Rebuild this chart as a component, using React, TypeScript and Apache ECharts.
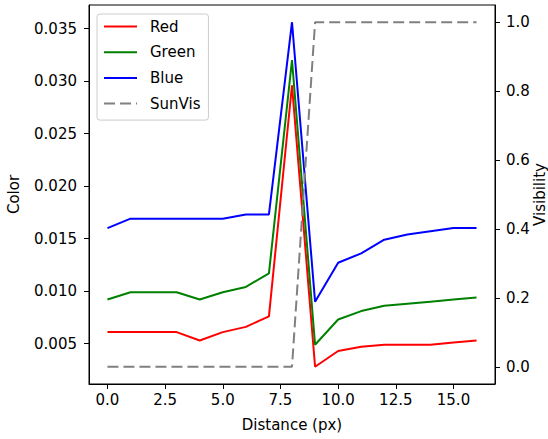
import React, { useEffect, useRef } from "react";
import * as echarts from "echarts";

const distances = [0, 1, 2, 3, 4, 5, 6, 7, 8, 9, 10, 11, 12, 13, 14, 15, 16];
const redValues = [0.0061, 0.0061, 0.0061, 0.0061, 0.0053, 0.0061, 0.0066, 0.0076, 0.0296, 0.0028, 0.0043, 0.0047, 0.0049, 0.0049, 0.0049, 0.0051, 0.0053];
const greenValues = [0.0092, 0.0099, 0.0099, 0.0099, 0.0092, 0.0099, 0.0104, 0.0117, 0.0320, 0.0049, 0.0073, 0.0081, 0.0086, 0.0088, 0.0090, 0.0092, 0.0094];
const blueValues = [0.0160, 0.0169, 0.0169, 0.0169, 0.0169, 0.0169, 0.0173, 0.0173, 0.0356, 0.0090, 0.0127, 0.0136, 0.0149, 0.0154, 0.0157, 0.0160, 0.0160];
const sunVisValues = [0, 0, 0, 0, 0, 0, 0, 0, 0, 1, 1, 1, 1, 1, 1, 1, 1];

const xTicks = [0, 2.5, 5, 7.5, 10, 12.5, 15];
const leftTicks = [0.005, 0.01, 0.015, 0.02, 0.025, 0.03, 0.035];
const rightTicks = [0, 0.2, 0.4, 0.6, 0.8, 1.0];
const rightAxisTitle = "Visibility";

const FONT = "DejaVu Sans";
const FS = 15;

function padRange(vals: number[]) {
  const mn = Math.min(...vals);
  const mx = Math.max(...vals);
  const r = mx - mn;
  return [mn - 0.05 * r, mx + 0.05 * r];
}

export default function App() {
  const ref = useRef<HTMLDivElement>(null);
  useEffect(() => {
    if (!ref.current) return;
    const chart = echarts.init(ref.current, null, { renderer: "svg" });
    const [xMin, xMax] = padRange(distances);
    const [lMin, lMax] = padRange([...redValues, ...greenValues, ...blueValues]);
    const [rMin, rMax] = padRange(sunVisValues);
    const pairs = (ys: number[]) => distances.map((d, i) => [d, ys[i]]);
    const axisCommon = {
      axisLine: { show: true, onZero: false, lineStyle: { color: "#000", width: 1 } },
      axisTick: { show: true, length: 5, lineStyle: { color: "#000", width: 1 } },
      splitLine: { show: false },
    };
    chart.setOption({
      animation: false,
      textStyle: { fontFamily: FONT },
      grid: {
        left: 89,
        top: 5,
        width: 406,
        height: 379,
        outerBoundsMode: "none",
        containLabel: false,
        show: true,
        borderColor: "#000",
        borderWidth: 1,
        backgroundColor: "transparent",
      },
      graphic: [
        {
          type: "text",
          x: 540,
          y: 194.5,
          rotation: Math.PI / 2,
          style: {
            text: rightAxisTitle,
            fontFamily: FONT,
            fontSize: FS,
            fill: "#000",
            textAlign: "center",
            textVerticalAlign: "middle",
          },
        },
      ],
      legend: {
        orient: "vertical",
        left: 97,
        top: 14,
        itemWidth: 33,
        itemHeight: 14,
        itemGap: 10.7,
        padding: [5, 8, 9, 6],
        backgroundColor: "rgba(255,255,255,0.8)",
        borderColor: "#cccccc",
        borderWidth: 1,
        borderRadius: 3,
        itemStyle: { opacity: 0 },
        textStyle: { fontFamily: FONT, fontSize: FS, color: "#000", padding: [0, 0, 0, 8] },
        data: ["Red", "Green", "Blue", "SunVis"],
      },
      xAxis: {
        type: "value",
        min: xMin,
        max: xMax,
        name: "Distance (px)",
        nameLocation: "middle",
        nameGap: 33,
        nameTextStyle: { fontFamily: FONT, fontSize: FS, color: "#000" },
        ...axisCommon,
        axisTick: { ...axisCommon.axisTick, customValues: xTicks },
        axisLabel: {
          customValues: xTicks,
          fontFamily: FONT,
          fontSize: FS,
          color: "#000",
          margin: 8,
          formatter: (v: number) => v.toFixed(1),
        },
      },
      yAxis: [
        {
          type: "value",
          position: "left",
          min: lMin,
          max: lMax,
          name: "Color",
          nameLocation: "middle",
          nameGap: 68,
          nameTextStyle: { fontFamily: FONT, fontSize: FS, color: "#000" },
          ...axisCommon,
          axisTick: { ...axisCommon.axisTick, customValues: leftTicks },
          axisLabel: {
            customValues: leftTicks,
            fontFamily: FONT,
            fontSize: FS,
            color: "#000",
            margin: 12,
            formatter: (v: number) => v.toFixed(3),
          },
        },
        {
          type: "value",
          position: "right",
          min: rMin,
          max: rMax,
          ...axisCommon,
          axisTick: { ...axisCommon.axisTick, customValues: rightTicks },
          axisLabel: {
            customValues: rightTicks,
            fontFamily: FONT,
            fontSize: FS,
            color: "#000",
            margin: 11,
            formatter: (v: number) => v.toFixed(1),
          },
        },
      ],
      series: [
        {
          name: "Red",
          type: "line",
          yAxisIndex: 0,
          data: pairs(redValues),
          symbol: "none",
          lineStyle: { color: "#ff0000", width: 2 },
          itemStyle: { color: "#ff0000" },
        },
        {
          name: "Green",
          type: "line",
          yAxisIndex: 0,
          data: pairs(greenValues),
          symbol: "none",
          lineStyle: { color: "#008000", width: 2 },
          itemStyle: { color: "#008000" },
        },
        {
          name: "Blue",
          type: "line",
          yAxisIndex: 0,
          data: pairs(blueValues),
          symbol: "none",
          lineStyle: { color: "#0000ff", width: 2 },
          itemStyle: { color: "#0000ff" },
        },
        {
          name: "SunVis",
          type: "line",
          yAxisIndex: 1,
          data: pairs(sunVisValues),
          symbol: "none",
          lineStyle: { color: "#808080", width: 2, type: [11, 5] },
          itemStyle: { color: "#808080" },
        },
      ],
    });
    return () => chart.dispose();
  }, []);
  return (
    <div
      ref={ref}
      style={{ position: "fixed", left: 0, top: 0, width: 548, height: 439, background: "#fff" }}
    />
  );
}
